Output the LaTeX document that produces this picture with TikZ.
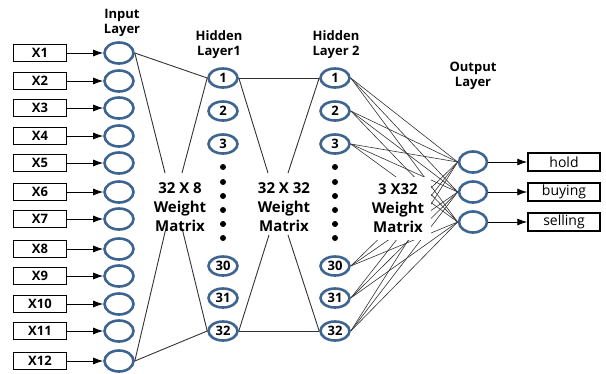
\documentclass[tikz,border=0pt]{standalone}
\usepackage{fontspec}
\setmainfont{Open Sans}
\usetikzlibrary{shapes.geometric,arrows.meta}

\definecolor{unitblue}{HTML}{3E6592}
\definecolor{wire}{HTML}{333333}

\tikzset{
  unit/.style={ellipse,draw=unitblue,line width=2.6pt,inner sep=0pt,
    minimum width=29pt,minimum height=21pt},
  hunit/.style={unit,minimum height=19pt,font=\bfseries\fontsize{13}{13}\selectfont},
  databox/.style={draw,line width=1.5pt,inner sep=0pt,minimum width=53pt,
    minimum height=17pt,font=\bfseries\fontsize{13}{13}\selectfont},
  layertitle/.style={align=center,font=\bfseries\fontsize{13}{15}\selectfont},
  matrixlabel/.style={align=center,font=\bfseries\fontsize{15}{19}\selectfont},
  feed/.style={-{Latex[length=10pt,width=7pt]},line width=0.9pt},
  weight/.style={wire,line width=0.9pt},
  fan/.style={wire,line width=0.6pt}
}

\begin{document}
\begin{tikzpicture}[x=1pt,y=-1pt]
  \useasboundingbox (0,0) rectangle (606,373);

  % input column: data boxes and input units
  \foreach \k/\y in {1/53,2/81,3/108,4/136,5/163,6/192,7/219,8/249,9/276,10/304,11/331,12/361} {
    \node[databox] (x\k) at (40,\y) {X\k};
    \node[unit] (i\k) at (119,\y) {};
    \draw[feed] (x\k.east) -- (i\k.west);
  }
  \node[layertitle] (inlabel) at (122,23) {Input\\Layer};

  % hidden layers, dots for the skipped units
  \foreach \k/\y in {1/78,2/111,3/144,30/266,31/298,32/331} {
    \node[hunit] (ha\k) at (223,\y) {\k};
    \node[hunit] (hb\k) at (335,\y) {\k};
  }
  \foreach \y in {167,182,196,210,224,238} {
    \fill (223,\y) circle (3pt);
    \fill (335,\y) circle (3pt);
  }
  \node[layertitle] (halabel) at (219,45) {Hidden\\Layer1};
  \node[layertitle] (hblabel) at (336,45) {Hidden\\Layer 2};

  % output units and decisions
  \foreach \k/\y/\txt in {1/162/hold,2/192/buying,3/222/selling} {
    \node[unit,minimum width=28pt] (o\k) at (473,\y) {};
    \node[databox,minimum width=72pt,minimum height=18pt,font=\fontsize{14}{14}\selectfont] (d\k) at (564,\y) {\txt};
    \draw[feed] (o\k.east) -- (d\k.west);
  }
  \node[layertitle] (outlabel) at (473,76) {Output\\Layer};

  % input -> hidden 1
  \coordinate (wa-tl) at (165,173);
  \coordinate (wa-tr) at (182,173);
  \coordinate (wa-bl) at (166,228);
  \coordinate (wa-br) at (182,228);
  \draw[weight] (i1.east) -- (ha1.west);
  \draw[weight] (i12.east) -- (ha32.west);
  \draw[weight] (i1.east) -- (wa-tl);
  \draw[weight] (ha1.west) -- (wa-tr);
  \draw[weight] (i12.east) -- (wa-bl);
  \draw[weight] (ha32.west) -- (wa-br);
  \node[matrixlabel] (wa) at (180,207) {32 X 8\\Weight\\Matrix};

  % hidden 1 -> hidden 2
  \coordinate (wb-tl) at (268,173);
  \coordinate (wb-tr) at (288,173);
  \coordinate (wb-bl) at (269,235);
  \coordinate (wb-br) at (288,235);
  \draw[weight] (ha1.east) -- (hb1.west);
  \draw[weight] (ha32.east) -- (hb32.west);
  \draw[weight] (ha1.east) -- (wb-tl);
  \draw[weight] (hb1.west) -- (wb-tr);
  \draw[weight] (ha32.east) -- (wb-bl);
  \draw[weight] (hb32.west) -- (wb-br);
  \node[matrixlabel] (wb) at (284,207) {32 X 32\\Weight\\Matrix};

  % hidden 2 -> output, fully connected
  \foreach \k in {1,2,3,30,31,32}
    \foreach \j in {1,2,3}
      \draw[fan] (hb\k.east) -- (o\j.west);
  \node[matrixlabel,fill=white,minimum width=66pt,minimum height=63pt] (wc) at (398,208) {3 X32\\Weight\\Matrix};
\end{tikzpicture}
\end{document}
